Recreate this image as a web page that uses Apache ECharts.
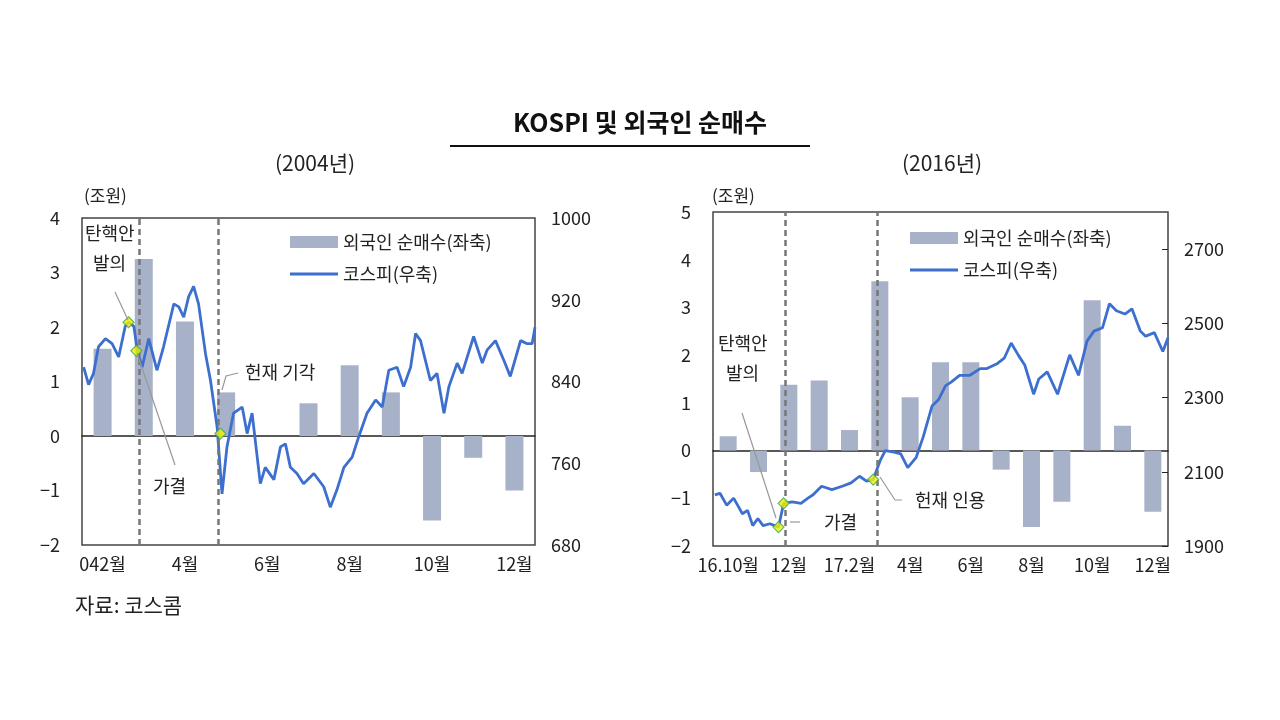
<!DOCTYPE html>
<html><head><meta charset="utf-8">
<script src="https://cdn.jsdelivr.net/npm/echarts@6/dist/echarts.min.js"></script>
<style>html,body{margin:0;background:#fff}#c{width:1280px;height:720px}</style></head>
<body><div id="c"></div>
<script>
const catsA = ['042월','3월','4월','5월','6월','7월','8월','9월','10월','11월','12월'];
const barsA = [1.6,3.25,2.1,0.8,0,0.6,1.3,0.8,-1.55,-0.4,-1.0];
const kospiA = [[0.04,854],[0.16,837],[0.28,848],[0.40,874],[0.57,882],[0.73,877],[0.89,864],[1.05,894],[1.13,898],[1.26,894],[1.34,871],[1.46,854],[1.62,882],[1.82,851],[1.98,874],[2.23,916],[2.35,913],[2.47,903],[2.59,923],[2.71,933],[2.83,916],[3.0,867],[3.12,841],[3.28,796],[3.40,730],[3.52,776],[3.68,809],[3.89,815],[4.01,789],[4.13,809],[4.33,740],[4.45,756],[4.66,744],[4.82,776],[4.94,779],[5.06,756],[5.22,750],[5.38,740],[5.63,750],[5.87,737],[6.03,717],[6.19,734],[6.36,756],[6.56,766],[6.72,786],[6.92,809],[7.13,822],[7.29,815],[7.45,851],[7.65,854],[7.81,835],[7.98,854],[8.10,887],[8.22,880],[8.46,841],[8.62,848],[8.79,809],[8.91,835],[9.11,858],[9.23,848],[9.51,884],[9.72,858],[9.84,871],[10.04,880],[10.24,861],[10.40,845],[10.65,880],[10.81,877],[10.93,877],[11.0,893]];
const markA = [[1.13,898],[1.32,870],[3.36,789]];
const eventsA = [1.38,3.32];

const catsB = ['16.10월','11월','12월','1월','17.2월','3월','4월','5월','6월','7월','8월','9월','10월','11월','12월'];
const barsB = [0.3,-0.45,1.38,1.47,0.43,3.55,1.12,1.85,1.85,-0.4,-1.6,-1.07,3.15,0.52,-1.28];
const kospiB = [[0.06,2038],[0.23,2042],[0.45,2010],[0.68,2029],[0.97,1987],[1.14,1996],[1.31,1955],[1.48,1974],[1.65,1955],[1.88,1960],[2.16,1951],[2.33,2015],[2.61,2019],[2.90,2015],[3.13,2029],[3.30,2038],[3.58,2061],[3.92,2052],[4.26,2061],[4.55,2070],[4.83,2088],[5.06,2075],[5.28,2079],[5.51,2130],[5.68,2157],[5.97,2153],[6.19,2148],[6.42,2111],[6.70,2139],[6.93,2194],[7.22,2277],[7.44,2295],[7.67,2332],[7.84,2341],[8.13,2360],[8.47,2360],[8.81,2378],[9.03,2378],[9.38,2392],[9.60,2406],[9.83,2447],[10.06,2415],[10.28,2387],[10.57,2309],[10.74,2350],[11.02,2369],[11.36,2309],[11.76,2415],[12.05,2360],[12.33,2452],[12.56,2479],[12.84,2488],[13.07,2553],[13.30,2534],[13.58,2525],[13.81,2539],[14.09,2479],[14.26,2465],[14.55,2475],[14.83,2424],[15.0,2461]];
const markB = [[2.16,1951],[2.33,2015],[5.28,2079]];
const eventsB = [2.39,5.40];

const BAR='#a7b2c8', LINE='#3d6fcf', FONT='"Noto Sans CJK KR","Noto Sans",sans-serif', TC='#222';
const minus = v => String(v).replace('-', '\u2212');
const plain = v => String(v);
const lbl = {color:TC,fontSize:18,fontFamily:FONT};

function grid(left, right, top, bottom){ return {left,right,top,bottom,show:true,borderColor:'#444',borderWidth:1.5,backgroundColor:'#fff'}; }
function axesFor(g, cats, n, ymin, ymax, rmin, rmax, rint){
  return {
    x:[
      {type:'category',gridIndex:g,data:cats,axisLine:{onZero:true,onZeroAxisIndex:g*2,lineStyle:{color:'#222',width:1.5}},axisTick:{inside:true,length:6,lineStyle:{color:'#222'}},axisLabel:{show:false}},
      {type:'category',gridIndex:g,data:cats,position:'bottom',axisLine:{show:false,onZero:false},axisTick:{show:false},axisLabel:Object.assign({interval:1,margin:10},lbl)},
      {type:'value',gridIndex:g,min:0,max:n,show:false}
    ],
    y:[
      {type:'value',gridIndex:g,min:ymin,max:ymax,interval:1,splitLine:{show:false},axisLine:{show:false},axisTick:{show:false},axisLabel:Object.assign({formatter:minus,margin:22},lbl)},
      {type:'value',gridIndex:g,position:'right',min:rmin,max:rmax,interval:rint,splitLine:{show:false},axisLine:{show:false},axisTick:{show:rint===200,inside:true,length:6,lineStyle:{color:'#222'}},axisLabel:Object.assign({formatter:plain,margin:16,showMaxLabel:rint!==200},lbl)}
    ]
  };
}
const A = axesFor(0, catsA, 11, -2, 4, 680, 1000, 80);
const B = axesFor(1, catsB, 15, -2, 5, 1900, 2800, 200);

function seriesFor(g, bars, kospi, marks, events){
  const xo=g*3, yo=g*2;
  return [
    {name:'외국인 순매수(좌축)',type:'bar',xAxisIndex:xo,yAxisIndex:yo,data:bars,barWidth:g?17:18,itemStyle:{color:BAR},z:2},
    {name:'코스피(우축)',type:'line',xAxisIndex:xo+2,yAxisIndex:yo+1,data:kospi,symbol:'none',lineStyle:{color:LINE,width:2.8},itemStyle:{color:LINE},z:4,
      markLine:{silent:true,symbol:'none',label:{show:false},lineStyle:{color:'#777',type:[6,4],width:2.5},data:events.map(e=>({xAxis:e}))}},
    {type:'scatter',xAxisIndex:xo+2,yAxisIndex:yo+1,data:marks,symbol:'diamond',symbolSize:11,itemStyle:{color:'#f4f000',borderColor:'#3aa860',borderWidth:1.2},z:6}
  ];
}

const chart = echarts.init(document.getElementById('c'));
const legendText = {color:TC,fontSize:18,fontFamily:FONT};
const legData = [{name:'외국인 순매수(좌축)',icon:'rect'},{name:'코스피(우축)',icon:'path://M0,0H48V3H0Z'}];
chart.setOption({
  backgroundColor:'#fff',
  animation:false,
  grid:[grid(82,745,218,175),grid(713,112,212,174)],
  xAxis:[...A.x,...B.x],
  yAxis:[...A.y,...B.y],
  legend:[
    {orient:'vertical',left:285,top:228,itemGap:14,itemWidth:48,itemHeight:12,textStyle:legendText,data:legData},
    {orient:'vertical',left:905,top:224,itemGap:14,itemWidth:48,itemHeight:12,textStyle:legendText,data:legData}
  ],
  series:[...seriesFor(0,barsA,kospiA,markA,eventsA),...seriesFor(1,barsB,kospiB,markB,eventsB)],
  graphic:[
    {type:'text',left:'center',top:110,style:{text:'KOSPI 및 외국인 순매수',fontSize:25,fontWeight:'bold',fill:'#111',fontFamily:FONT}},
    {type:'line',shape:{x1:450,y1:146,x2:810,y2:146},style:{stroke:'#111',lineWidth:2}},
    {type:'text',x:315,y:163,style:{text:'(2004년)',fontSize:21,fill:TC,fontFamily:FONT,align:'center',verticalAlign:'middle'}},
    {type:'text',x:942,y:163,style:{text:'(2016년)',fontSize:21,fill:TC,fontFamily:FONT,align:'center',verticalAlign:'middle'}},
    {type:'text',x:84,y:196,style:{text:'(조원)',fontSize:17,fill:TC,fontFamily:FONT,verticalAlign:'middle'}},
    {type:'text',x:712,y:196,style:{text:'(조원)',fontSize:17,fill:TC,fontFamily:FONT,verticalAlign:'middle'}},
    {type:'text',x:75,y:605,style:{text:'자료: 코스콤',fontSize:21,fill:TC,fontFamily:FONT,verticalAlign:'middle'}},
    {type:'text',x:85,y:218,z:10,style:{text:'탄핵안\n  발의',fontSize:18,lineHeight:30,fill:TC,fontFamily:FONT}},
    {type:'line',z:10,shape:{x1:115,y1:292,x2:128,y2:320},style:{stroke:'#999',lineWidth:1.2}},
    {type:'line',z:10,shape:{x1:137,y1:353,x2:175,y2:465},style:{stroke:'#999',lineWidth:1.2}},
    {type:'text',x:153,y:486,z:10,style:{text:'가결',fontSize:18,fill:TC,fontFamily:FONT,verticalAlign:'middle'}},
    {type:'polyline',z:10,shape:{points:[[222,390],[226,376],[238,373]]},style:{stroke:'#999',lineWidth:1.2,fill:null}},
    {type:'text',x:245,y:372,z:10,style:{text:'헌재 기각',fontSize:18,fill:TC,fontFamily:FONT,verticalAlign:'middle'}},
    {type:'text',x:718,y:328,z:10,style:{text:'탄핵안\n  발의',fontSize:18,lineHeight:30,fill:TC,fontFamily:FONT}},
    {type:'line',z:10,shape:{x1:742,y1:413,x2:776,y2:518},style:{stroke:'#999',lineWidth:1.2}},
    {type:'line',z:10,shape:{x1:790,y1:522,x2:800,y2:522},style:{stroke:'#999',lineWidth:1.2}},
    {type:'text',x:824,y:522,z:10,style:{text:'가결',fontSize:18,fill:TC,fontFamily:FONT,verticalAlign:'middle'}},
    {type:'polyline',z:10,shape:{points:[[880,477],[895,500],[902,500]]},style:{stroke:'#999',lineWidth:1.2,fill:null}},
    {type:'text',x:915,y:500,z:10,style:{text:'헌재 인용',fontSize:18,fill:TC,fontFamily:FONT,verticalAlign:'middle'}}
  ]
});
</script></body></html>
